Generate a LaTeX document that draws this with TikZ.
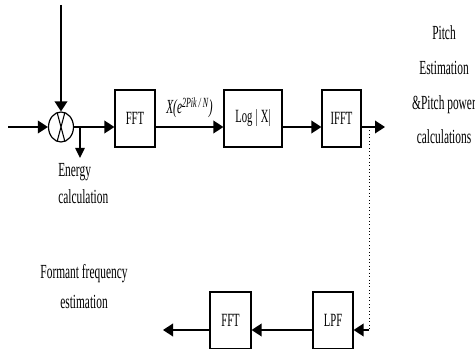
\documentclass[tikz,border=0pt]{standalone}
\usepackage{fontspec}
\setmainfont{Liberation Serif}[FakeStretch=0.57]
\usetikzlibrary{arrows.meta,positioning,calc,shapes.geometric}

\begin{document}
\begin{tikzpicture}[x=0.75pt,y=-0.75pt,
        blk/.style={draw,line width=0.9pt,minimum width=30pt,minimum height=42.75pt,inner sep=0pt,font=\fontsize{14}{16}\selectfont},
        sig/.style={line width=1.1pt,-{Triangle[length=7.5pt,width=9.5pt]}},
        txt/.style={font=\fontsize{15}{17}\selectfont}]
        \useasboundingbox (0,0) rectangle (475,349);

        % Upper chain
        \coordinate (in) at (8,127);
        \coordinate (top) at (61,5);
        \node[draw,ellipse,line width=0.9pt,minimum width=18.75pt,minimum height=22.5pt,inner sep=0pt] (mult) at (61,127) {};
        \draw[line width=0.8pt] (mult.105) -- (mult.285) (mult.75) -- (mult.255);
        \node[blk] (fft) at (135,118.5) {FFT};
        \node[blk,minimum width=43.5pt] (log) at (253,118.5) {Log\,|\,X|};
        \node[blk,minimum width=29.25pt] (ifft) at (341.5,118.5) {IFFT};
        \coordinate (tap) at (80,127);
        \coordinate (en) at (80,158);
        \coordinate (split) at (369,127);
        \coordinate (out) at (385,127);

        % Lower chain
        \node[blk] (lpf) at (333,320.5) {LPF};
        \node[blk,minimum width=30.75pt] (fft2) at (230.5,320.5) {FFT};
        \coordinate (back) at (369,330);
        \coordinate (fend) at (163,330);

        % Arrows
        \draw[sig] (in) -- (mult.west);
        \draw[sig] (top) -- (mult.north);
        \draw[sig] (mult.east) -- (fft.west |- mult);
        \draw[sig,-{Triangle[length=7.5pt,width=7pt]}] (tap) -- (en);
        \draw[sig] (fft.east |- mult) -- (log.west |- mult);
        \draw[sig] (log.east |- mult) -- (ifft.west |- mult);
        \draw[sig] (ifft.east |- mult) -- (out);
        \draw[dotted,line width=0.6pt] (split) -- (back);
        \draw[sig] (back) -- (lpf.east |- back);
        \draw[sig] (lpf.west |- back) -- (fft2.east |- back);
        \draw[sig] (fft2.west |- back) -- (fend);

        % Labels
        \node[txt,anchor=base west,inner sep=0pt] (xe) at (166,114) {\itshape X(e\textsuperscript{2Pik / N})};
        \node[txt,anchor=north west,align=left,inner sep=0pt,font=\fontsize{15}{20}\selectfont] (energy) at (58,163) {Energy\\calculation};
        \node[txt,align=center,font=\fontsize{15}{22.5}\selectfont] (formant) at (84,287) {Formant frequency\\estimation};
        \node[txt,align=center,font=\fontsize{15}{26}\selectfont] (pitch) at (444,85) {Pitch\\Estimation\\\&Pitch power\\calculations};
    \end{tikzpicture}
\end{document}
